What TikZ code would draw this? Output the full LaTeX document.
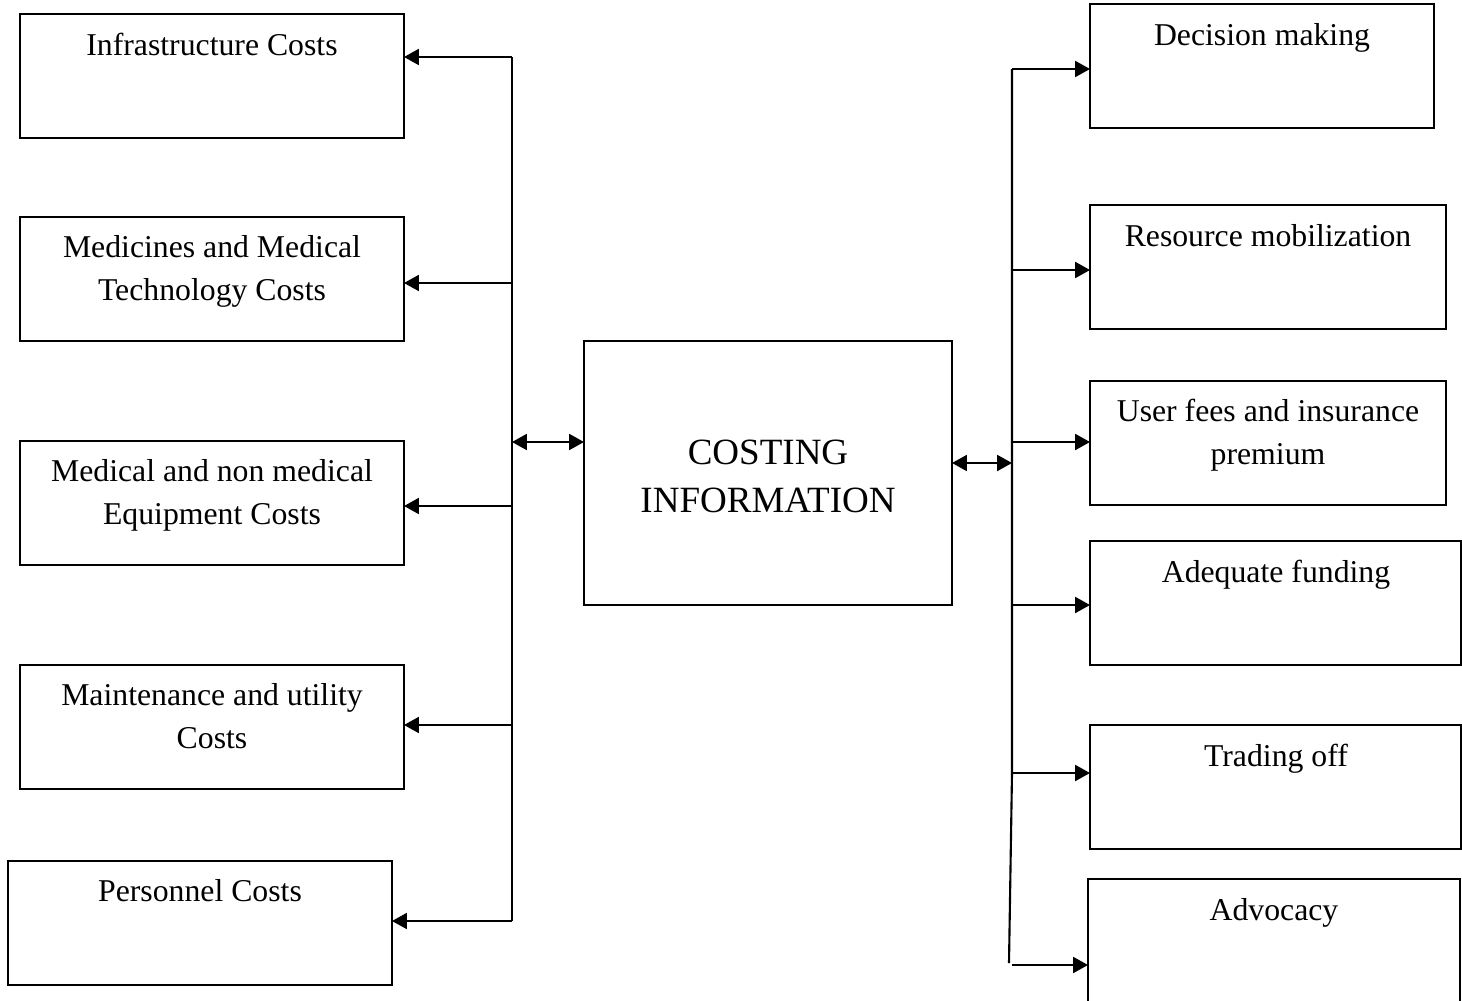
\documentclass[tikz,border=0pt]{standalone}
\usepackage{fontspec}
\setmainfont{Liberation Serif}
\usetikzlibrary{arrows.meta}
\begin{document}
\begin{tikzpicture}[x=0.378pt, y=-0.378pt,
  box/.style={draw, line width=0.8pt, inner sep=0pt, outer sep=0pt, minimum height=124*0.378pt},
  lbl/.style={anchor=base, inner sep=0pt, align=center, font=\fontsize{12}{16.25}\selectfont},
  biglbl/.style={anchor=base, inner sep=0pt, align=center, font=\fontsize{14}{18.1}\selectfont},
  conn/.style={line width=0.8pt},
  arr/.style={line width=0.8pt, -{Triangle[length=5.6pt, width=6pt]}},
  darr/.style={line width=0.8pt, {Triangle[length=5.6pt, width=6pt]}-{Triangle[length=5.6pt, width=6pt]}}]
\useasboundingbox (0,0) rectangle (1462,1001);

% left boxes
\node[box, minimum width=384*0.378pt] (L1) at (212,76) {};
\node[box, minimum width=384*0.378pt] (L2) at (212,279) {};
\node[box, minimum width=384*0.378pt] (L3) at (212,503) {};
\node[box, minimum width=384*0.378pt] (L4) at (212,727) {};
\node[box, minimum width=384*0.378pt] (L5) at (200,923) {};
\node[lbl] (tL1) at (212,55) {Infrastructure Costs};
\node[lbl] (tL2a) at (212,257) {Medicines and Medical};
\node[lbl] (tL2b) at (212,300) {Technology Costs};
\node[lbl] (tL3a) at (212,481) {Medical and non medical};
\node[lbl] (tL3b) at (212,524) {Equipment Costs};
\node[lbl] (tL4a) at (212,705) {Maintenance and utility};
\node[lbl] (tL4b) at (212,748) {Costs};
\node[lbl] (tL5) at (200,901) {Personnel Costs};

% centre
\node[box, minimum width=368*0.378pt, minimum height=264*0.378pt] (C) at (768,473) {};
\node[biglbl] (tCa) at (768,464) {COSTING};
\node[biglbl] (tCb) at (768,512) {INFORMATION};

% right boxes
\node[box, minimum width=344*0.378pt] (R1) at (1262,66) {};
\node[box, minimum width=356*0.378pt] (R2) at (1268,267) {};
\node[box, minimum width=356*0.378pt] (R3) at (1268,443) {};
\node[box, minimum width=371*0.378pt] (R4) at (1275.5,603) {};
\node[box, minimum width=371*0.378pt] (R5) at (1275.5,787) {};
\node[box, minimum width=372*0.378pt] (R6) at (1274,941) {};
\node[lbl] (tR1) at (1262,45) {Decision making};
\node[lbl] (tR2) at (1268,246) {Resource mobilization};
\node[lbl] (tR3a) at (1268,421) {User fees and insurance};
\node[lbl] (tR3b) at (1268,464) {premium};
\node[lbl] (tR4) at (1276,582) {Adequate funding};
\node[lbl] (tR5) at (1276,766) {Trading off};
\node[lbl] (tR6) at (1274,920) {Advocacy};

% left trunk
\coordinate (lt1) at (512,57);
\coordinate (lt2) at (512,283);
\coordinate (lt3) at (512,506);
\coordinate (lt4) at (512,725);
\coordinate (lt5) at (512,921);
\coordinate (ltc) at (512,442);
\draw[conn] (lt1) -- (lt5);
\draw[arr] (lt1) -- (lt1 -| L1.east);
\draw[arr] (lt2) -- (lt2 -| L2.east);
\draw[arr] (lt3) -- (lt3 -| L3.east);
\draw[arr] (lt4) -- (lt4 -| L4.east);
\draw[arr] (lt5) -- (lt5 -| L5.east);
\draw[darr] (ltc) -- (ltc -| C.west);

% right trunk
\coordinate (rt1) at (1012,69);
\coordinate (rt2) at (1012,270);
\coordinate (rt3) at (1012,442);
\coordinate (rt4) at (1012,605);
\coordinate (rt5) at (1012,773);
\coordinate (rtb) at (1009,963);
\coordinate (rt6) at (1012,965);
\coordinate (rtc) at (1012,463);
\draw[conn] (rt1) -- (rt5) -- (rtb);
\draw[arr] (rt1) -- (rt1 -| R1.west);
\draw[arr] (rt2) -- (rt2 -| R2.west);
\draw[arr] (rt3) -- (rt3 -| R3.west);
\draw[arr] (rt4) -- (rt4 -| R4.west);
\draw[arr] (rt5) -- (rt5 -| R5.west);
\draw[arr] (rt6) -- (rt6 -| R6.west);
\draw[darr] (C.east |- rtc) -- (rtc);
\end{tikzpicture}
\end{document}
